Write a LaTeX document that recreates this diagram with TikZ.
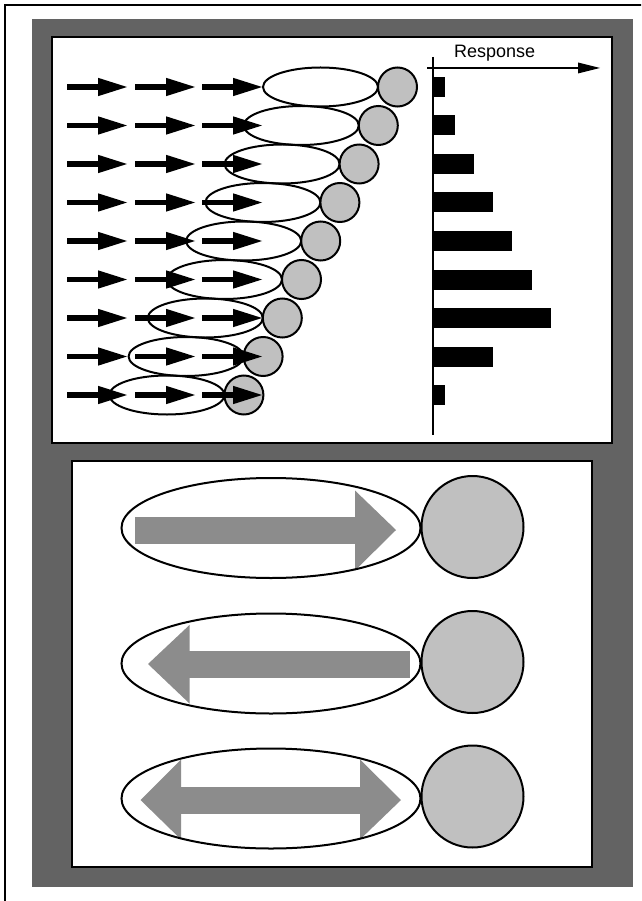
\documentclass[tikz,border=0pt]{standalone}
\usepackage{fontspec}
\setmainfont{Liberation Sans}
\definecolor{panelgray}{HTML}{636363}
\definecolor{cellgray}{HTML}{C0C0C0}
\definecolor{flowgray}{HTML}{8C8C8C}
\tikzset{
  panel/.style={draw=black, line width=2pt, fill=white},
  cell/.style={draw=black, line width=2pt, fill=cellgray},
  field/.style={draw=black, line width=2pt},
  flow/.style={fill=flowgray},
  axisline/.style={draw=black, line width=2pt},
}
\begin{document}
\begin{tikzpicture}[x=1pt,y=-1pt]
\useasboundingbox (0,0) rectangle (641,901);
\fill[white] (0,0) rectangle (641,901);
% outer frame, running off the page
\begin{scope}
  \clip (0,0) rectangle (641,901);
  \draw[line width=2pt] (5,920) -- (5,5) -- (660,5);
\end{scope}
% dark backdrop and the two white panels
\fill[panelgray] (32,19) rectangle (633,887);
\draw[panel] (52,37) rectangle (612,443);
\draw[panel] (72,461) rectangle (592,867);

% ---- upper panel: shifted receptive fields with input arrows ----
\foreach \i in {0,...,8} {
  \pgfmathsetmacro\yy{87+38.5*\i}
  \pgfmathsetmacro\ex{320.5-19.2*\i}
  \draw[field] (\ex,\yy) ellipse [x radius=57.5, y radius=19.5];
  \draw[cell] (\ex+77,\yy) circle [radius=19.5];
  \foreach \sx in {67,135,202} {
    \fill (\sx,\yy-2.6) rectangle (\sx+32,\yy+2.6);
    \fill (\sx+31,\yy-9.2) -- (\sx+60,\yy) -- (\sx+31,\yy+9.2) -- cycle;
  }
}
% response axis and bars
\coordinate (ax0) at (433,57);
\coordinate (ax1) at (433,435);
\draw[axisline] (ax0) -- (ax1);
\coordinate (rx0) at (427,68);
\coordinate (rx1) at (580,68);
\draw[line width=1.8pt] (rx0) -- (rx1);
\fill (578,62.5) -- (600,68) -- (578,73.5) -- cycle;
\node[font=\fontsize{18}{20}\selectfont, anchor=base, inner sep=0pt] (resp) at (494.7,58) {Response};
\foreach \i/\len in {0/12,1/22,2/41,3/60,4/79,5/99,6/118,7/60,8/12}
  \fill (433,87+38.5*\i-10) rectangle (433+\len,87+38.5*\i+10);

% ---- lower panel: direction of flow through a field ----
% rightward
\fill[flow] (135,516.5) rectangle (356,543.5);
\fill[flow] (355,490.5) -- (396,530) -- (355,570.5) -- cycle;
\draw[field] (271,528) ellipse [x radius=149.5, y radius=50];
\draw[cell] (472.5,527) circle [radius=51];
% leftward
\fill[flow] (188,650.5) rectangle (409.5,678);
\fill[flow] (189.5,625) -- (148,664) -- (189.5,703.5) -- cycle;
\draw[field] (271,663.5) ellipse [x radius=149.5, y radius=50];
\draw[cell] (472.5,662) circle [radius=51];
% both ways
\fill[flow] (180,786.5) rectangle (361,814);
\fill[flow] (181,759.5) -- (140.5,800) -- (181,839.5) -- cycle;
\fill[flow] (360,759.5) -- (401,800) -- (360,839.5) -- cycle;
\draw[field] (271,798.5) ellipse [x radius=149.5, y radius=50];
\draw[cell] (472.5,796.5) circle [radius=51];
\end{tikzpicture}
\end{document}
